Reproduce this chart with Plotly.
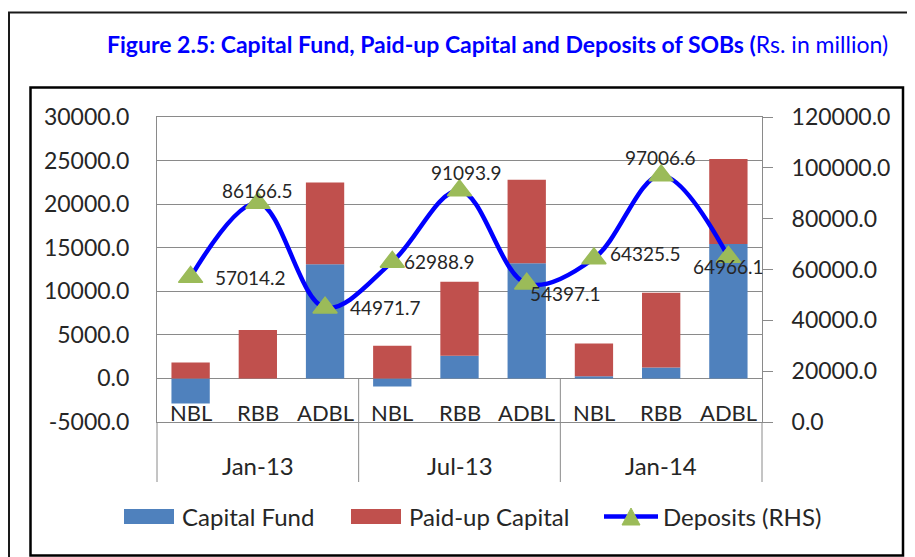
import plotly.graph_objects as go

# ---------------- data ----------------
periods = ["Jan-13", "Jul-13", "Jan-14"]
banks = ["NBL", "RBB", "ADBL"]
capital_fund = [-2870, 0, 13100, -920, 2600, 13220, 260, 1260, 15440]
paid_up_capital = [1840, 5550, 9380, 3750, 8500, 9570, 3760, 8580, 9730]
deposits = [57014.2, 86166.5, 44971.7, 62988.9, 91093.9, 54397.1, 64325.5, 97006.6, 64966.1]
left_ticks = [-5000, 0, 5000, 10000, 15000, 20000, 25000, 30000]
right_ticks = [0, 20000, 40000, 60000, 80000, 100000, 120000]

# label placement styles for deposit data labels: (xanchor, yanchor, xshift, yshift)
label_style = [
    ("left", "middle", 22, 0),
    ("center", "middle", 0, 12),
    ("left", "middle", 23, 0),
    ("left", "middle", 10, 0),
    ("center", "middle", 7, 18),
    ("left", "middle", 1, -10),
    ("left", "middle", 14, 5),
    ("center", "middle", -1, 18),
    ("center", "middle", 0, -10),
]

OFF = 8  # page body margin
W, H = 915 - OFF, 557 - OFF
ML, MT = 157 - OFF, 117 - OFF
PW, PH = 605, 305
MR, MB = W - ML - PW, H - MT - PH


def px(xp):
    """screen x pixel -> paper x"""
    return (xp - OFF - ML) / PW


def py(yp):
    """screen y pixel -> paper y"""
    return (MT + PH - (yp - OFF)) / PH


FONT = "Lato"
TXT = "#262626"
GRID = "#8a8a8a"
BLUE = "#4F81BD"
RED = "#C0504D"
GREEN = "#9BBB59"
LINE = "#0000FF"

n = len(periods) * len(banks)
xs = list(range(n))
bank_labels = [b for _ in periods for b in banks]

fig = go.Figure()
fig.add_trace(go.Bar(x=xs, y=capital_fund, name="Capital Fund", marker_color=BLUE,
                     marker_line_width=0))
fig.add_trace(go.Bar(x=xs, y=paid_up_capital, name="Paid-up Capital", marker_color=RED,
                     marker_line_width=0))
fig.add_trace(go.Scatter(x=xs, y=deposits, name="Deposits (RHS)", yaxis="y2",
                         mode="lines+markers",
                         line=dict(color=LINE, width=4.5, shape="spline", smoothing=1.0),
                         marker=dict(symbol="triangle-up", size=21, color=GREEN,
                                     line=dict(color=GREEN, width=1.5))))

annotations = []
shapes = []

# deposit data labels
for i, v in enumerate(deposits):
    xa, ya, xsh, ysh = label_style[i]
    annotations.append(dict(x=xs[i], y=v, xref="x", yref="y2", text=f"{v:.1f}",
                            showarrow=False, xanchor=xa, yanchor=ya, xshift=xsh, yshift=ysh,
                            font=dict(family=FONT, size=19, color=TXT)))

# bank labels (level 1)
for i, b in enumerate(bank_labels):
    annotations.append(dict(x=xs[i], y=py(412), xref="x", yref="paper", text=b,
                            showarrow=False, xanchor="center", yanchor="middle",
                            font=dict(family=FONT, size=22, color=TXT)))

# period labels (level 2)
for g, p in enumerate(periods):
    centre = sum(xs[g * 3:(g + 1) * 3]) / 3
    annotations.append(dict(x=centre, y=py(465), xref="x", yref="paper", text=p,
                            showarrow=False, xanchor="center", yanchor="middle",
                            font=dict(family=FONT, size=24, color=TXT)))

# category dividers
for g in range(1, len(periods)):
    xb = g * 3 - 0.5
    shapes.append(dict(type="line", xref="x", yref="paper", x0=xb, x1=xb,
                       y0=py(378.3), y1=py(482), line=dict(color=GRID, width=1)))
for xe in (0, 1):
    shapes.append(dict(type="line", xref="paper", yref="paper", x0=xe, x1=xe,
                       y0=0, y1=py(482), line=dict(color=GRID, width=1)))

# title
annotations.append(dict(x=px(497), y=py(44), xref="paper", yref="paper",
                        text="<b>Figure 2.5: Capital Fund, Paid-up Capital and Deposits of SOBs (</b>Rs. in million)",
                        showarrow=False, xanchor="center", yanchor="middle",
                        font=dict(family=FONT, size=23, color="#0000FF")))

# custom legend
legend_y = py(516.5)
LFS = 24
shapes.append(dict(type="rect", xref="paper", yref="paper", x0=px(124), x1=px(174),
                   y0=py(509), y1=py(524), fillcolor=BLUE, line=dict(width=0)))
annotations.append(dict(x=px(180), y=legend_y, xref="paper", yref="paper", text="Capital Fund",
                        showarrow=False, xanchor="left", yanchor="middle",
                        font=dict(family=FONT, size=LFS, color=TXT)))
shapes.append(dict(type="rect", xref="paper", yref="paper", x0=px(351), x1=px(401),
                   y0=py(509), y1=py(524), fillcolor=RED, line=dict(width=0)))
annotations.append(dict(x=px(407), y=legend_y, xref="paper", yref="paper", text="Paid-up Capital",
                        showarrow=False, xanchor="left", yanchor="middle",
                        font=dict(family=FONT, size=LFS, color=TXT)))
shapes.append(dict(type="line", xref="paper", yref="paper", x0=px(604), x1=px(658),
                   y0=legend_y, y1=legend_y, line=dict(color=LINE, width=4.5)))
tri = f"M {px(622)},{py(525)} L {px(640)},{py(525)} L {px(631)},{py(508)} Z"
shapes.append(dict(type="path", xref="paper", yref="paper", path=tri,
                   fillcolor=GREEN, line=dict(color=GREEN, width=1)))
annotations.append(dict(x=px(661), y=legend_y, xref="paper", yref="paper", text="Deposits (RHS)",
                        showarrow=False, xanchor="left", yanchor="middle",
                        font=dict(family=FONT, size=LFS, color=TXT)))

# frames
shapes.append(dict(type="line", xref="paper", yref="paper", x0=px(8), x1=px(930),
                   y0=py(12.5), y1=py(12.5), line=dict(color="#1a1a1a", width=2)))
shapes.append(dict(type="line", xref="paper", yref="paper", x0=px(9), x1=px(9),
                   y0=py(12), y1=py(570), line=dict(color="#1a1a1a", width=2)))
shapes.append(dict(type="rect", xref="paper", yref="paper", x0=px(30.5), x1=px(903),
                   y0=py(87.5), y1=py(555.5), line=dict(color="#000000", width=2.5)))

fig.update_layout(
    width=W, height=H,
    margin=dict(l=ML, r=MR, t=MT, b=MB),
    paper_bgcolor="white", plot_bgcolor="white",
    barmode="relative", bargap=0.43,
    showlegend=False,
    font=dict(family=FONT, color=TXT),
    xaxis=dict(range=[-0.5, n - 0.5], showgrid=False, showticklabels=False, zeroline=False,
               showline=True, mirror=True, linecolor=GRID, linewidth=1, ticks=""),
    yaxis=dict(range=[left_ticks[0], left_ticks[-1]], tickvals=left_ticks,
               ticktext=[f"{v:.1f}" for v in left_ticks],
               showgrid=True, gridcolor=GRID, gridwidth=1, zeroline=False,
               showline=True, linecolor=GRID, linewidth=1, ticks="",
               ticklabelstandoff=22,
               tickfont=dict(family=FONT, size=23, color=TXT)),
    yaxis2=dict(range=[right_ticks[0], right_ticks[-1]], tickvals=right_ticks,
                ticktext=[f"{v:.1f}" for v in right_ticks],
                overlaying="y", side="right", showgrid=False, zeroline=False,
                showline=True, linecolor=GRID, linewidth=1, ticks="outside", ticklen=10,
                tickcolor=GRID, ticklabelstandoff=14,
                tickfont=dict(family=FONT, size=23, color=TXT)),
    annotations=annotations,
    shapes=shapes,
)

fig.write_html("out.html")
